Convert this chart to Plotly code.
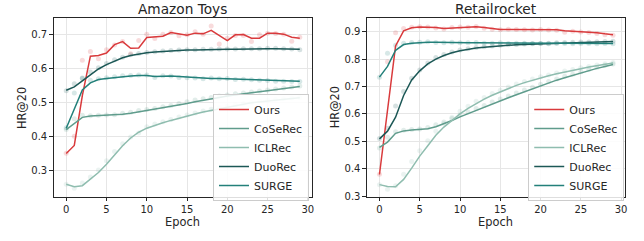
import plotly.graph_objects as go
from plotly.subplots import make_subplots

epochs = list(range(30))
series_names = ["Ours", "CoSeRec", "ICLRec", "DuoRec", "SURGE"]
colors = ["#d93a3c", "#5f9c8c", "#8fbdaf", "#1c5856", "#23807a"]
panel_titles = ["Amazon Toys", "Retailrocket"]
x_ticks = [0, 5, 10, 15, 20, 25, 30]
y_ticks_toys = [0.3, 0.4, 0.5, 0.6, 0.7]
y_ticks_rr = [0.3, 0.4, 0.5, 0.6, 0.7, 0.8, 0.9]

# ---- Amazon Toys (smoothed lines) ----
toys_ours = [0.349, 0.373, 0.52, 0.637, 0.639, 0.646, 0.671, 0.680, 0.660, 0.661,
             0.692, 0.694, 0.696, 0.707, 0.702, 0.699, 0.705, 0.703, 0.713, 0.698,
             0.683, 0.700, 0.701, 0.690, 0.690, 0.705, 0.705, 0.702, 0.693, 0.690]
toys_coserec = [0.420, 0.438, 0.456, 0.460, 0.461, 0.462, 0.463, 0.465, 0.468, 0.472,
                0.476, 0.479, 0.483, 0.487, 0.492, 0.497, 0.502, 0.507, 0.511, 0.515,
                0.519, 0.523, 0.526, 0.529, 0.532, 0.535, 0.538, 0.541, 0.544, 0.547]
toys_iclrec = [0.258, 0.251, 0.254, 0.273, 0.293, 0.317, 0.345, 0.372, 0.395, 0.412,
               0.424, 0.433, 0.440, 0.447, 0.454, 0.460, 0.466, 0.472, 0.477, 0.482,
               0.487, 0.491, 0.495, 0.499, 0.502, 0.505, 0.508, 0.510, 0.512, 0.514]
toys_duorec = [0.536, 0.546, 0.564, 0.582, 0.599, 0.612, 0.623, 0.632, 0.639, 0.644,
               0.647, 0.649, 0.651, 0.653, 0.654, 0.655, 0.655, 0.656, 0.656, 0.657,
               0.657, 0.657, 0.658, 0.658, 0.658, 0.659, 0.659, 0.659, 0.658, 0.657]
toys_surge = [0.424, 0.482, 0.537, 0.558, 0.568, 0.571, 0.574, 0.577, 0.578, 0.580,
              0.580, 0.577, 0.578, 0.578, 0.577, 0.575, 0.573, 0.571, 0.571, 0.571,
              0.570, 0.569, 0.569, 0.568, 0.567, 0.566, 0.565, 0.564, 0.563, 0.563]

# ---- Amazon Toys (raw points) ----
toys_ours_pts = [0.350, 0.400, 0.625, 0.651, 0.629, 0.656, 0.670, 0.680, 0.644, 0.683,
                 0.702, 0.689, 0.702, 0.707, 0.697, 0.700, 0.709, 0.702, 0.726, 0.673,
                 0.690, 0.698, 0.698, 0.680, 0.700, 0.705, 0.704, 0.702, 0.681, 0.693]
toys_coserec_pts = [0.420, 0.452, 0.462, 0.461, 0.462, 0.463, 0.464, 0.468, 0.471, 0.476,
                    0.479, 0.482, 0.487, 0.491, 0.497, 0.502, 0.507, 0.511, 0.515, 0.519,
                    0.522, 0.526, 0.528, 0.531, 0.534, 0.537, 0.540, 0.543, 0.546, 0.549]
toys_iclrec_pts = [0.258, 0.246, 0.262, 0.280, 0.300, 0.328, 0.355, 0.378, 0.398, 0.410,
                   0.428, 0.436, 0.443, 0.450, 0.457, 0.463, 0.469, 0.475, 0.480, 0.485,
                   0.489, 0.493, 0.497, 0.500, 0.504, 0.507, 0.509, 0.511, 0.513, 0.515]
toys_duorec_pts = [0.535, 0.555, 0.572, 0.590, 0.603, 0.615, 0.626, 0.634, 0.641, 0.645,
                   0.648, 0.650, 0.652, 0.654, 0.655, 0.656, 0.656, 0.657, 0.657, 0.658,
                   0.658, 0.658, 0.659, 0.659, 0.659, 0.660, 0.660, 0.659, 0.658, 0.656]
toys_surge_pts = [0.425, 0.528, 0.571, 0.566, 0.570, 0.573, 0.576, 0.579, 0.580, 0.581,
                  0.581, 0.574, 0.579, 0.578, 0.574, 0.573, 0.572, 0.570, 0.572, 0.570,
                  0.571, 0.568, 0.569, 0.567, 0.566, 0.565, 0.563, 0.563, 0.562, 0.562]

# ---- Retailrocket (smoothed lines) ----
rr_ours = [0.379, 0.605, 0.848, 0.903, 0.914, 0.917, 0.917, 0.915, 0.911, 0.913,
           0.916, 0.917, 0.918, 0.915, 0.911, 0.908, 0.908, 0.908, 0.908, 0.907,
           0.907, 0.907, 0.907, 0.903, 0.901, 0.900, 0.899, 0.896, 0.892, 0.889]
rr_coserec = [0.478, 0.497, 0.529, 0.538, 0.541, 0.543, 0.546, 0.553, 0.564, 0.576,
              0.589, 0.601, 0.613, 0.625, 0.637, 0.648, 0.659, 0.670, 0.681, 0.692,
              0.703, 0.713, 0.723, 0.732, 0.741, 0.750, 0.758, 0.766, 0.773, 0.780]
rr_iclrec = [0.342, 0.335, 0.334, 0.361, 0.402, 0.446, 0.484, 0.522, 0.552, 0.577,
             0.600, 0.620, 0.638, 0.654, 0.668, 0.681, 0.693, 0.704, 0.714, 0.723,
             0.731, 0.739, 0.746, 0.753, 0.759, 0.765, 0.771, 0.776, 0.781, 0.786]
rr_duorec = [0.509, 0.537, 0.588, 0.667, 0.724, 0.757, 0.782, 0.800, 0.813, 0.823,
             0.830, 0.836, 0.840, 0.843, 0.846, 0.848, 0.850, 0.852, 0.853, 0.855,
             0.856, 0.857, 0.858, 0.859, 0.860, 0.861, 0.861, 0.862, 0.863, 0.864]
rr_surge = [0.734, 0.773, 0.832, 0.853, 0.858, 0.860, 0.861, 0.861, 0.860, 0.860,
            0.860, 0.859, 0.859, 0.859, 0.858, 0.858, 0.858, 0.858, 0.858, 0.858,
            0.857, 0.857, 0.857, 0.857, 0.857, 0.857, 0.857, 0.857, 0.857, 0.857]

# ---- Retailrocket (raw points) ----
rr_ours_pts = [0.380, 0.790, 0.896, 0.911, 0.916, 0.918, 0.917, 0.913, 0.910, 0.915,
               0.917, 0.916, 0.919, 0.912, 0.909, 0.907, 0.909, 0.908, 0.907, 0.906,
               0.908, 0.906, 0.905, 0.898, 0.901, 0.899, 0.897, 0.893, 0.889, 0.887]
rr_coserec_pts = [0.476, 0.515, 0.535, 0.540, 0.543, 0.545, 0.550, 0.560, 0.570, 0.583,
                  0.596, 0.607, 0.620, 0.631, 0.643, 0.654, 0.665, 0.676, 0.687, 0.697,
                  0.708, 0.718, 0.727, 0.737, 0.745, 0.754, 0.762, 0.769, 0.777, 0.782]
rr_iclrec_pts = [0.342, 0.325, 0.338, 0.380, 0.426, 0.466, 0.502, 0.537, 0.565, 0.588,
                 0.610, 0.628, 0.646, 0.660, 0.674, 0.686, 0.698, 0.709, 0.718, 0.727,
                 0.735, 0.742, 0.749, 0.756, 0.762, 0.768, 0.773, 0.778, 0.783, 0.787]
rr_duorec_pts = [0.510, 0.548, 0.629, 0.682, 0.730, 0.760, 0.786, 0.806, 0.817, 0.826,
                 0.833, 0.838, 0.842, 0.845, 0.848, 0.850, 0.852, 0.853, 0.855, 0.856,
                 0.857, 0.858, 0.859, 0.860, 0.861, 0.862, 0.862, 0.863, 0.864, 0.865]
rr_surge_pts = [0.734, 0.821, 0.850, 0.858, 0.860, 0.861, 0.863, 0.860, 0.859, 0.861,
                0.859, 0.859, 0.860, 0.858, 0.858, 0.859, 0.857, 0.858, 0.858, 0.857,
                0.857, 0.856, 0.857, 0.857, 0.856, 0.857, 0.857, 0.856, 0.857, 0.856]

panels = [
    ([toys_ours, toys_coserec, toys_iclrec, toys_duorec, toys_surge],
     [toys_ours_pts, toys_coserec_pts, toys_iclrec_pts, toys_duorec_pts, toys_surge_pts],
     "legend", [0.221, 0.750], y_ticks_toys),
    ([rr_ours, rr_coserec, rr_iclrec, rr_duorec, rr_surge],
     [rr_ours_pts, rr_coserec_pts, rr_iclrec_pts, rr_duorec_pts, rr_surge_pts],
     "legend2", [0.2975, 0.950], y_ticks_rr),
]

W, H = 644, 241
FONT = "DejaVu Sans"
TXT = "#262626"


def px(x):
    return x / W


def py(y):
    return 1 - y / H


fig = make_subplots(rows=1, cols=2, horizontal_spacing=0.08)

for ci, (lines, pts, leg, yr, yt) in enumerate(panels, start=1):
    for name, col, p in zip(series_names, colors, pts):
        fig.add_trace(go.Scatter(x=epochs, y=p, mode="markers",
                                 marker=dict(color=col, size=5, opacity=0.18),
                                 showlegend=False, hoverinfo="skip"), row=1, col=ci)
    for name, col, v in zip(series_names, colors, lines):
        fig.add_trace(go.Scatter(x=epochs, y=v, mode="lines", name=name,
                                 line=dict(color=col, width=1.5),
                                 legend=leg), row=1, col=ci)
    fig.update_yaxes(range=yr, tickvals=yt, ticktext=[f"{t:.1f}" for t in yt],
                     row=1, col=ci)

axis_common = dict(showline=True, linecolor=TXT, linewidth=1, mirror=True,
                   ticks="outside", ticklen=3.5, tickwidth=1, tickcolor=TXT,
                   showgrid=True, gridcolor="#e6e6e6", gridwidth=1, zeroline=False,
                   tickfont=dict(family=FONT, size=10, color=TXT))
fig.update_xaxes(range=[-1.55, 30.46], tickvals=x_ticks, **axis_common)
fig.update_yaxes(**axis_common)

leg_common = dict(xanchor="left", yanchor="top",
                  bgcolor="rgba(255,255,255,0.85)", bordercolor="#cccccc", borderwidth=1,
                  font=dict(family=FONT, size=11, color=TXT), itemwidth=30,
                  tracegroupgap=0)

panel_x = [(54, 313), (368.7, 627.7)]
annotations = []
for (x0, x1), title in zip(panel_x, panel_titles):
    annotations.append(dict(text=title, x=px((x0 + x1) / 2), y=py(9.5), xref="paper",
                            yref="paper", showarrow=False, xanchor="center",
                            yanchor="middle", font=dict(family=FONT, size=13.7, color=TXT)))
    annotations.append(dict(text="Epoch", x=px((x0 + x1) / 2), y=py(227), xref="paper",
                            yref="paper", showarrow=False, xanchor="center",
                            yanchor="middle", font=dict(family=FONT, size=11.4, color=TXT)))
    annotations.append(dict(text="HR@20", x=px(x0 - 32.5), y=py(110), xref="paper",
                            yref="paper", showarrow=False, xanchor="center",
                            yanchor="middle", textangle=-90,
                            font=dict(family=FONT, size=11.4, color=TXT)))

fig.update_layout(
    width=W, height=H,
    margin=dict(l=0, r=0, t=0, b=0),
    paper_bgcolor="white", plot_bgcolor="white",
    font=dict(family=FONT, color=TXT),
    xaxis=dict(domain=[px(54), px(313)]),
    xaxis2=dict(domain=[px(368.7), px(627.7)]),
    yaxis=dict(domain=[py(201), py(18.3)]),
    yaxis2=dict(domain=[py(201), py(18.3)]),
    legend=dict(x=px(214), y=py(96), **leg_common),
    legend2=dict(x=px(530.7), y=py(96), **leg_common),
    annotations=annotations,
)

fig.write_html("out.html", config={"displayModeBar": False},
               post_script="document.body.style.margin='0';")
